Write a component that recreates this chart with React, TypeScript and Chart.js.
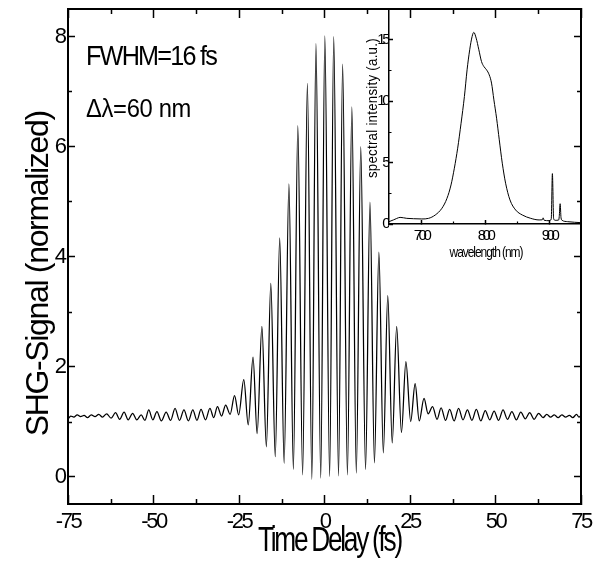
import React, { useEffect, useRef } from "react";
import { Chart, registerables } from "chart.js";

Chart.register(...registerables);

const FONT = "'Liberation Sans', Arial, Helvetica, sans-serif";

// ---- main trace: interferometric autocorrelation (extrema)
const delayFs = [
  -75.0, -74.2, -73.3, -72.3, -71.3, -70.3, -69.3, -68.2, -67.1, -66.0, -64.9, -63.7,
  -62.4, -61.1, -59.9, -58.6, -57.4, -56.1, -54.9, -53.6, -52.5, -51.4, -50.2, -49.0,
  -47.7, -46.3, -45.0, -43.7, -42.4, -41.1, -39.8, -38.5, -37.3, -36.1, -34.8, -33.5,
  -32.4, -31.3, -30.1,
  -28.9, -27.6, -26.3, -25.1, -23.6, -22.3, -20.9, -19.7, -18.3, -17.0, -15.7, -14.4,
  -13.1, -11.8, -10.4, -9.1, -7.8, -6.4, -5.0, -3.7, -2.5, -1.1, 0.1, 1.5, 2.7, 4.1,
  5.3, 6.7, 8.0, 9.3, 10.6, 12.0, 13.3, 14.6, 15.9, 17.2, 18.5, 19.8, 21.1, 22.5, 23.8,
  25.2, 26.5, 27.7, 29.1, 30.3,
  31.6, 32.9, 34.1, 35.4, 36.6, 37.9, 39.2, 40.5, 41.8, 43.1, 44.4, 45.7, 47.0, 48.3,
  49.6, 50.9, 52.2, 53.5, 54.8, 56.1, 57.4, 58.7, 60.0, 61.3, 62.6, 63.9, 65.0, 66.1,
  67.2, 68.3, 69.4, 70.5, 71.6, 72.6, 73.7, 74.4, 75.0,
];
const shgSignal = [
  1.04, 1.1, 1.08, 1.12, 1.09, 1.11, 1.07, 1.12, 1.09, 1.13, 1.08, 1.14,
  1.06, 1.16, 1.04, 1.17, 1.03, 1.15, 1.03, 1.12, 1.02, 1.21, 1.03, 1.18,
  1.01, 1.17, 1.02, 1.24, 1.02, 1.21, 1.01, 1.21, 1.02, 1.22, 1.03, 1.24,
  1.07, 1.27, 1.1,
  1.3, 1.13, 1.47, 1.12, 1.76, 0.94, 2.17, 0.78, 2.73, 0.54, 3.51, 0.36,
  4.34, 0.24, 5.32, 0.13, 6.38, 0.03, 7.15, -0.05, 7.87, -0.03, 8.01, 0.0, 8.0, 0.01,
  7.5, 0.03, 6.72, 0.06, 6.0, 0.13, 4.99, 0.25, 4.08, 0.43, 3.29, 0.61, 2.73, 0.8, 2.09,
  1.0, 1.69, 1.01, 1.42, 1.14,
  1.27, 1.04, 1.25, 1.02, 1.22, 1.01, 1.24, 1.03, 1.21, 1.02, 1.22, 1.01, 1.2, 1.03,
  1.19, 1.02, 1.21, 1.04, 1.18, 1.03, 1.17, 1.05, 1.16, 1.04, 1.15, 1.07, 1.13, 1.08,
  1.12, 1.07, 1.12, 1.08, 1.11, 1.07, 1.13, 1.08, 1.11,
];

const delayTicks = [-75, -50, -25, 0, 25, 50, 75];
const delayMinorTicks = [-62.5, -37.5, -12.5, 12.5, 37.5, 62.5];
const signalTicks = [0, 2, 4, 6, 8];
const signalMinorTicks = [1, 3, 5, 7];

// ---- inset: spectrum
const wavelengthNm = [
  650, 656.8, 662, 667.3, 677.8, 688.3, 701.3, 711.8, 722.2, 732.7, 740.6, 746.9,
  752.1, 757.3, 762.6, 767.8, 772.0, 776.1, 779.9, 782.5, 786.2, 790.4, 794.5, 798.2,
  802.4, 806.6, 810.2, 813.9, 818.1, 822.3, 827.0, 832.2, 839.0, 847.9, 858.4, 871.5,
  884.5, 889.5, 890.8, 892.5, 900.2, 903.5, 905.3, 907.2, 909.7, 915.0, 916.0, 917.4,
  918.8, 920.5, 929.1, 940, 950,
];
const spectralIntensity = [
  0.19, 0.33, 0.45, 0.54, 0.46, 0.43, 0.41, 0.46, 0.73, 1.28, 2.09, 3.18,
  4.54, 6.17, 8.2, 10.37, 12.55, 14.18, 15.27, 15.6, 15.13, 14.18, 13.23, 12.82,
  12.55, 12.14, 11.47, 10.1, 8.61, 6.85, 4.95, 3.32, 1.96, 1.14, 0.73, 0.46,
  0.33, 0.34, 0.5, 0.3, 0.27, 0.4, 4.1, 0.45, 0.3, 0.32, 0.6, 1.65,
  0.5, 0.3, 0.19, 0.14, 0.11,
];
const wavelengthTicks = [700, 800, 900];
const wavelengthMinorTicks = [750, 850];
const intensityTicks = [0, 5, 10, 15];
const intensityMinorTicks = [2.5, 7.5, 12.5];

function drawFitText(
  ctx: CanvasRenderingContext2D,
  text: string,
  size: number,
  x: number,
  y: number,
  width: number,
  align: CanvasTextAlign,
  rotated: boolean,
  sx: number
) {
  ctx.save();
  (ctx as any).letterSpacing = "0px";
  ctx.font = `${size}px ${FONT}`;
  const w0 = ctx.measureText(text).width;
  const n = Array.from(text).length;
  const ls = (width / sx - w0) / n;
  (ctx as any).letterSpacing = `${ls.toFixed(2)}px`;
  ctx.translate(x, y);
  if (rotated) ctx.rotate(-Math.PI / 2);
  ctx.scale(sx, 1);
  ctx.textAlign = align;
  ctx.textBaseline = "alphabetic";
  ctx.fillStyle = "#000";
  const dx = align === "center" ? -ls / 2 : 0;
  ctx.fillText(text, dx, 0);
  ctx.restore();
}

const zeroPad = (s: any) => {
  s.paddingLeft = 0;
  s.paddingRight = 0;
  s.paddingTop = 0;
  s.paddingBottom = 0;
};

const setTicks = (values: number[]) => (s: any) => {
  s.ticks = values.map((v) => ({ value: v }));
};

function axis(
  pos: "bottom" | "top" | "left" | "right",
  min: number,
  max: number,
  ticks: number[],
  size: number,
  tickLen: number,
  fontSize: number,
  labelPad: number,
  showLabels: boolean,
  borderWidth: number
) {
  const horizontal = pos === "bottom" || pos === "top";
  return {
    type: "linear" as const,
    axis: horizontal ? "x" : "y",
    position: pos,
    min,
    max,
    afterBuildTicks: setTicks(ticks),
    afterFit: (s: any) => {
      if (horizontal) s.height = size;
      else s.width = size;
      zeroPad(s);
    },
    grid: {
      display: true,
      drawOnChartArea: false,
      drawTicks: true,
      tickLength: -tickLen,
      tickWidth: 1.5,
      tickColor: "#000",
    },
    border: { display: true, color: "#000", width: borderWidth },
    ticks: {
      display: showLabels,
      color: "#000",
      font: { family: FONT, size: fontSize },
      padding: labelPad,
      maxRotation: 0,
      minRotation: 0,
      autoSkip: false,
      callback: (v: any) => String(v),
    },
  };
}

const mainDecor = {
  id: "mainDecor",
  beforeUpdate(chart: any) {
    chart.ctx.letterSpacing = "-2.5px";
  },
  beforeDraw(chart: any) {
    chart.ctx.letterSpacing = "-2.5px";
  },
  afterDraw(chart: any) {
    const ctx: CanvasRenderingContext2D = chart.ctx;
    const { left, right, top, bottom } = chart.chartArea;
    const xs = chart.scales.x;
    const ys = chart.scales.y;
    ctx.save();
    ctx.strokeStyle = "#000";
    ctx.lineWidth = 1.5;
    ctx.beginPath();
    delayMinorTicks.forEach((v) => {
      const px = Math.round(xs.getPixelForValue(v)) + 0.5;
      ctx.moveTo(px, bottom);
      ctx.lineTo(px, bottom - 5);
      ctx.moveTo(px, top);
      ctx.lineTo(px, top + 5);
    });
    signalMinorTicks.forEach((v) => {
      const py = Math.round(ys.getPixelForValue(v)) + 0.5;
      ctx.moveTo(left, py);
      ctx.lineTo(left + 4, py);
      ctx.moveTo(right, py);
      ctx.lineTo(right - 4, py);
    });
    ctx.stroke();
    ctx.restore();

    drawFitText(ctx, "SHG-Signal (normalized)", 32, 48, 274.5, 325, "center", true, 1);
    drawFitText(ctx, "Time Delay (fs)", 35, 328.3, 551, 143, "center", false, 0.75);
    drawFitText(ctx, "FWHM=16 fs", 28, 86, 65, 130, "left", false, 0.9);
    drawFitText(ctx, "\u0394\u03bb=60 nm", 25, 86, 117, 105, "left", false, 0.95);
  },
};

const insetDecor = {
  id: "insetDecor",
  beforeUpdate(chart: any) {
    chart.ctx.letterSpacing = "-3.5px";
  },
  beforeDraw(chart: any) {
    chart.ctx.letterSpacing = "-3.5px";
  },
  afterDraw(chart: any) {
    const ctx: CanvasRenderingContext2D = chart.ctx;
    const { left, bottom } = chart.chartArea;
    const xs = chart.scales.x;
    const ys = chart.scales.y;
    ctx.save();
    ctx.strokeStyle = "#000";
    ctx.lineWidth = 1.2;
    ctx.beginPath();
    wavelengthMinorTicks.forEach((v) => {
      const px = Math.round(xs.getPixelForValue(v)) + 0.5;
      ctx.moveTo(px, bottom);
      ctx.lineTo(px, bottom - 2.5);
    });
    intensityMinorTicks.forEach((v) => {
      const py = Math.round(ys.getPixelForValue(v)) + 0.5;
      ctx.moveTo(left, py);
      ctx.lineTo(left + 2.5, py);
    });
    ctx.stroke();
    ctx.restore();

    drawFitText(ctx, "spectral intensity (a.u.)", 14, 37, 108, 140, "center", true, 0.95);
    drawFitText(ctx, "wavelength (nm)", 15, 145.5, 257, 73, "center", false, 0.8);
  },
};

export default function App() {
  const mainRef = useRef<HTMLCanvasElement>(null);
  const insetRef = useRef<HTMLCanvasElement>(null);

  useEffect(() => {
    const mainData = delayFs.map((x, i) => ({ x, y: shgSignal[i] }));
    const insetData = wavelengthNm.map((x, i) => ({ x, y: spectralIntensity[i] }));

    const main = new Chart(mainRef.current as HTMLCanvasElement, {
      type: "line",
      data: {
        datasets: [
          {
            data: mainData,
            borderColor: "#000",
            borderWidth: 1.25,
            pointRadius: 0,
            fill: false,
            cubicInterpolationMode: "monotone",
          },
        ],
      },
      options: {
        responsive: false,
        animation: false,
        devicePixelRatio: 1,
        parsing: false,
        normalized: true,
        layout: { padding: { left: 0, right: 27, top: 9, bottom: 0 } },
        plugins: { legend: { display: false }, tooltip: { enabled: false } },
        scales: {
          x: axis("bottom", -75, 75, delayTicks, 58, 9, 22, 13.5, true, 2),
          x2: axis("top", -75, 75, delayTicks, 0, 9, 22, 0, false, 2),
          y: axis("left", -0.5, 8.5, signalTicks, 68, 7, 22, 10.5, true, 2),
          y2: axis("right", -0.5, 8.5, signalTicks, 0, 7, 22, 0, false, 2),
        } as any,
      },
      plugins: [mainDecor],
    } as any);

    const inset = new Chart(insetRef.current as HTMLCanvasElement, {
      type: "line",
      data: {
        datasets: [
          {
            data: insetData,
            borderColor: "#000",
            borderWidth: 1,
            pointRadius: 0,
            fill: false,
            cubicInterpolationMode: "monotone",
          },
        ],
      },
      options: {
        responsive: false,
        animation: false,
        devicePixelRatio: 1,
        parsing: false,
        normalized: true,
        layout: { padding: { left: 0, right: 27, top: 9, bottom: 0 } },
        plugins: { legend: { display: false }, tooltip: { enabled: false } },
        scales: {
          x: axis("bottom", 650, 950, wavelengthTicks, 56, 4, 15, 6.5, true, 1.5),
          y: axis("left", 0, 17.5, intensityTicks, 49, 4, 15, 6, true, 1.5),
        } as any,
      },
      plugins: [insetDecor],
    } as any);

    return () => {
      main.destroy();
      inset.destroy();
    };
  }, []);

  return (
    <div
      style={{
        position: "absolute",
        left: 0,
        top: 0,
        width: 608,
        height: 562,
        background: "#fff",
      }}
    >
      <canvas
        ref={mainRef}
        width={608}
        height={562}
        style={{ position: "absolute", left: 0, top: 0, width: 608, height: 562 }}
      />
      <canvas
        ref={insetRef}
        width={268}
        height={280}
        style={{ position: "absolute", left: 340, top: 0, width: 268, height: 280 }}
      />
    </div>
  );
}
